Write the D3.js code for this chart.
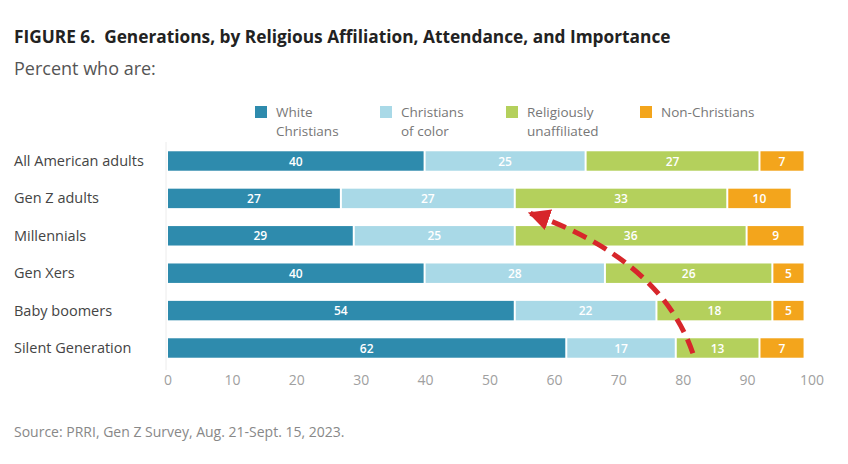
<!DOCTYPE html>
<html lang="en">
<head>
<meta charset="UTF-8">
<title>Generations, by Religious Affiliation</title>
<script src="https://d3js.org/d3.v7.min.js"></script>
<style>
    body {
        margin: 0;
        background: white;
        font-family: "Open Sans", sans-serif;
    }
</style>
</head>
<body>
<div id="chart"></div>
<script>
    const width = 848;
    const height = 464;

    // data
    const groups = ["All American adults", "Gen Z adults", "Millennials", "Gen Xers", "Baby boomers", "Silent Generation"];
    const series = ["White Christians", "Christians of color", "Religiously unaffiliated", "Non-Christians"];
    const legendLines = [["White", "Christians"], ["Christians", "of color"], ["Religiously", "unaffiliated"], ["Non-Christians"]];
    const whiteChristians = [40, 27, 29, 40, 54, 62];
    const christiansOfColor = [25, 27, 25, 28, 22, 17];
    const unaffiliated = [27, 33, 36, 26, 18, 13];
    const nonChristians = [7, 10, 9, 5, 5, 7];
    const ticks = [0, 10, 20, 30, 40, 50, 60, 70, 80, 90, 100];

    const colors = ["#2e8bad", "#a9d9e7", "#b4d05c", "#f3a51c"];

    const svg = d3.select("#chart").append("svg")
        .attr("width", width)
        .attr("height", height);

    const x = d3.scaleLinear().domain([0, 100]).range([168, 812]);
    const y = d3.scaleBand().domain(groups).range([142.3, 366.7])
        .paddingInner(0.48).paddingOuter(0.24);

    // title + subtitle
    svg.append("text")
        .attr("x", 14).attr("y", 43)
        .attr("font-size", 17.3).attr("font-weight", 700)
        .attr("fill", "#222")
        .attr("xml:space", "preserve")
        .text("FIGURE 6.  Generations, by Religious Affiliation, Attendance, and Importance");
    svg.append("text")
        .attr("x", 14).attr("y", 75)
        .attr("font-size", 18).attr("fill", "#555")
        .text("Percent who are:");

    // legend
    const legendX = [255, 380, 506, 640];
    series.forEach((s, i) => {
        const g = svg.append("g").attr("transform", `translate(${legendX[i]},106)`);
        g.append("rect").attr("width", 12).attr("height", 12).attr("fill", colors[i]);
        legendLines[i].forEach((line, j) => {
            g.append("text")
                .attr("x", 21).attr("y", 11 + j * 18.5)
                .attr("font-size", 13.5).attr("fill", "#777")
                .text(line);
        });
    });

    // stacked rows
    const rows = groups.map((g, i) => ({
        name: g,
        values: [whiteChristians[i], christiansOfColor[i], unaffiliated[i], nonChristians[i]]
    }));

    svg.append("line")
        .attr("x1", x(0) - 2).attr("x2", x(0) - 2)
        .attr("y1", 142).attr("y2", 370)
        .attr("stroke", "#ececec");

    rows.forEach(r => {
        let acc = 0;
        r.values.forEach((v, k) => {
            const x0 = x(acc), x1 = x(acc + v);
            svg.append("rect")
                .attr("x", x0)
                .attr("y", y(r.name))
                .attr("width", x1 - x0 - 2)
                .attr("height", y.bandwidth())
                .attr("fill", colors[k]);
            svg.append("text")
                .attr("x", (x0 + x1 - 2) / 2)
                .attr("y", y(r.name) + y.bandwidth() / 2 + 4.5)
                .attr("text-anchor", "middle")
                .attr("font-size", 12).attr("font-weight", 600)
                .attr("fill", "white")
                .text(v);
            acc += v;
        });
        svg.append("text")
            .attr("x", 14)
            .attr("y", y(r.name) + y.bandwidth() / 2 + 5)
            .attr("font-size", 14.5).attr("fill", "#444")
            .text(r.name);
    });

    // x axis labels only
    svg.selectAll(".tick-label")
        .data(ticks)
        .enter().append("text")
        .attr("class", "tick-label")
        .attr("x", d => x(d))
        .attr("y", 385)
        .attr("text-anchor", "middle")
        .attr("font-size", 14).attr("fill", "#a0a0a0")
        .text(d => d);

    // red dashed annotation arrow
    const arrowStart = [x(81.5), y("Silent Generation") + 15];
    const arrowEnd = [x(56.2), y("Gen Z adults") + y.bandwidth() + 5];
    const ctrl = [x(76.5), y("Gen Xers") - 4];
    svg.append("defs").append("marker")
        .attr("id", "head")
        .attr("viewBox", "0 0 10 10")
        .attr("refX", 9).attr("refY", 5)
        .attr("markerWidth", 4.4).attr("markerHeight", 4.4)
        .attr("orient", "auto")
        .append("path")
        .attr("d", "M0,0 L10,5 L0,10 Z")
        .attr("fill", "#d7262b");
    svg.append("path")
        .attr("d", `M${arrowStart} Q${ctrl} ${arrowEnd}`)
        .attr("fill", "none")
        .attr("stroke", "#d7262b")
        .attr("stroke-width", 5)
        .attr("stroke-dasharray", "15,8")
        .attr("marker-end", "url(#head)");

    // source
    svg.append("text")
        .attr("x", 14).attr("y", 437)
        .attr("font-size", 14).attr("fill", "#888")
        .text("Source: PRRI, Gen Z Survey, Aug. 21-Sept. 15, 2023.");
</script>
</body>
</html>
